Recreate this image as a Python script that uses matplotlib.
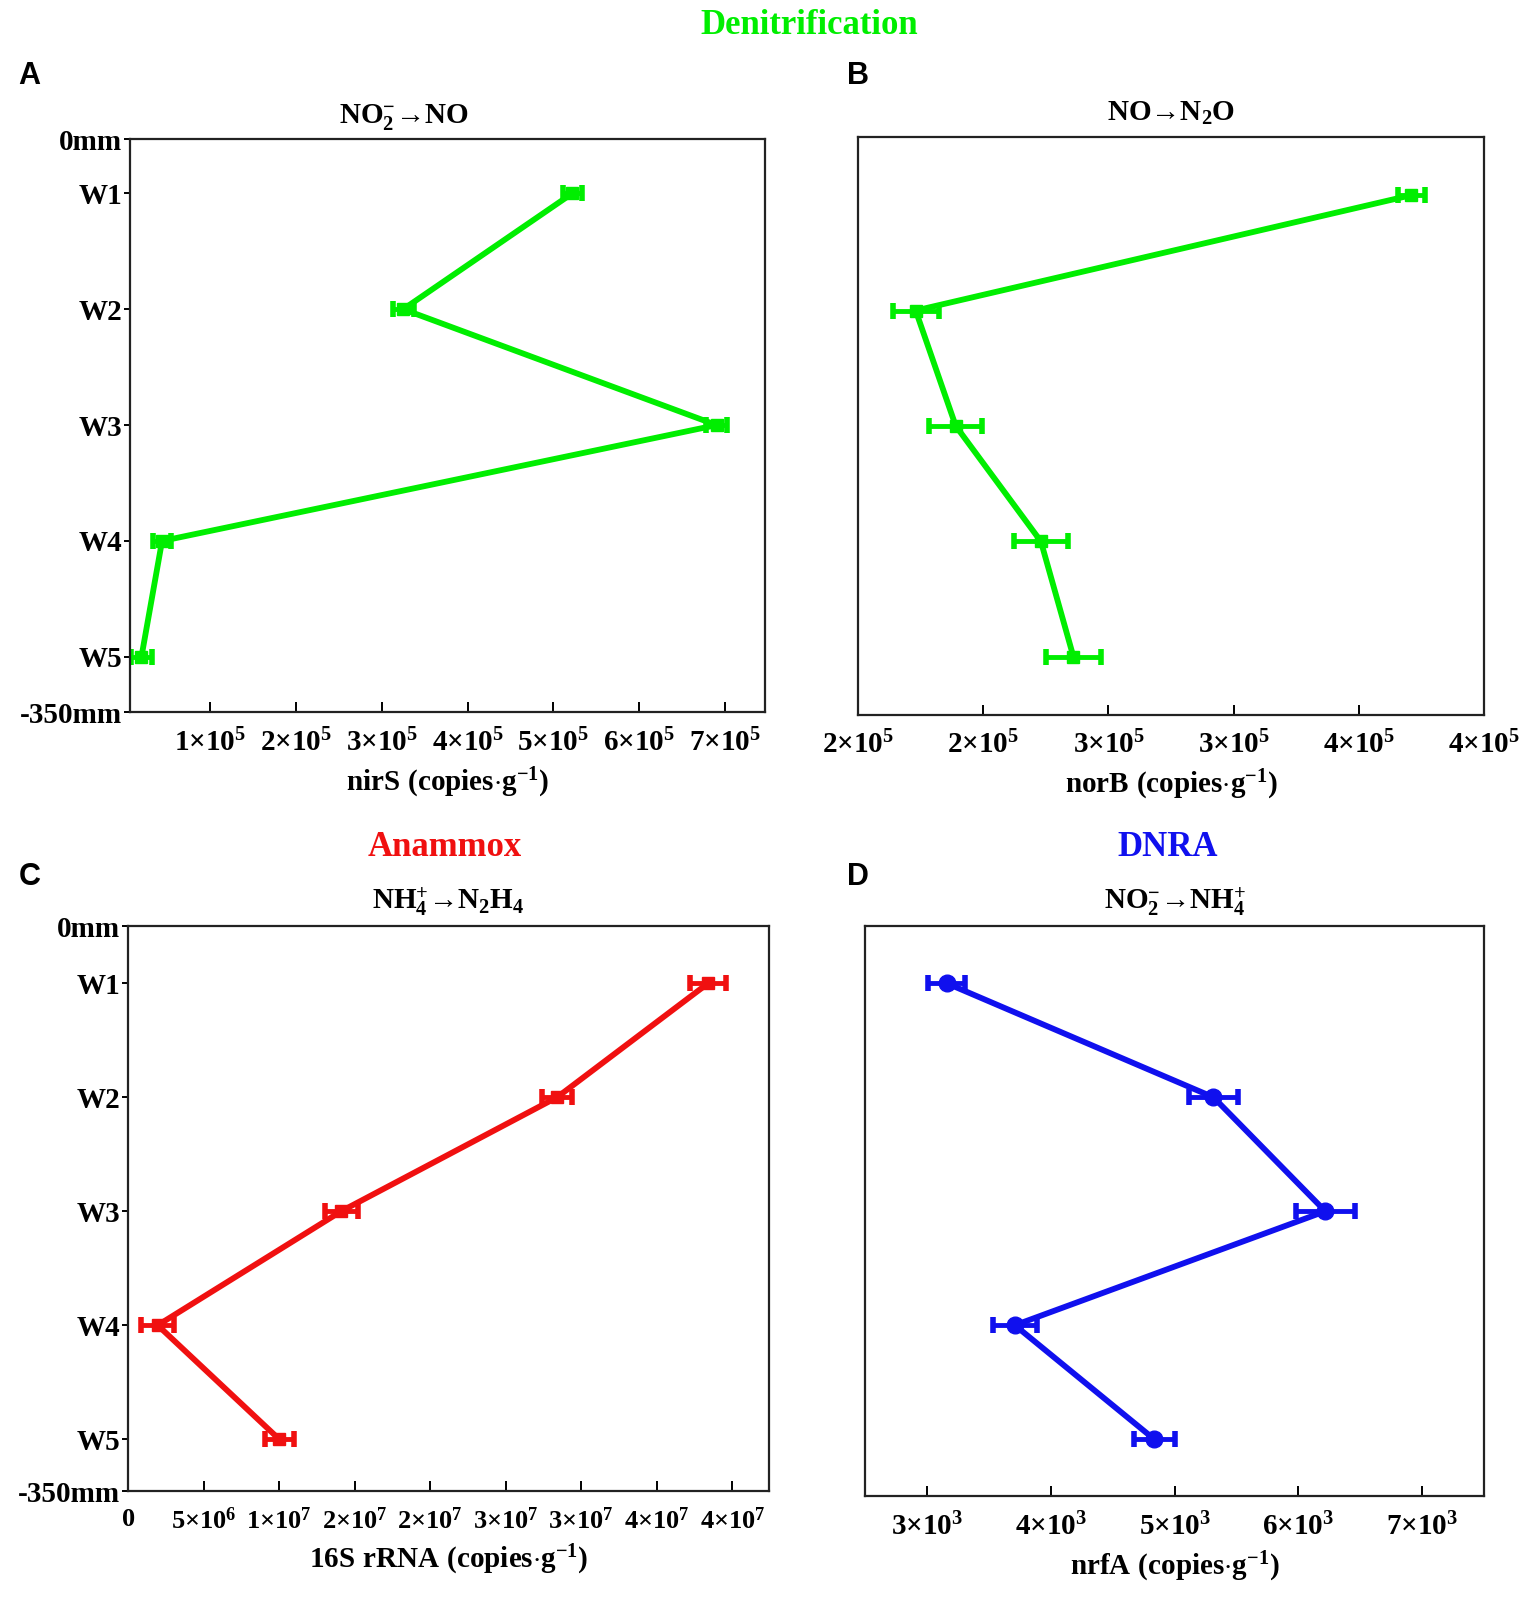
import math
import matplotlib
matplotlib.use("Agg")
import matplotlib.pyplot as plt
from matplotlib.ticker import FuncFormatter, FixedLocator

plt.rcParams["font.family"] = ["Liberation Serif", "DejaVu Serif"]
plt.rcParams["font.weight"] = "bold"
plt.rcParams["mathtext.fontset"] = "custom"
plt.rcParams["mathtext.rm"] = "Liberation Serif:bold"
plt.rcParams["mathtext.it"] = "Liberation Serif:bold"
plt.rcParams["mathtext.bf"] = "Liberation Serif:bold"
plt.rcParams["mathtext.default"] = "bf"

# sampling depths
sites = ["W1", "W2", "W3", "W4", "W5"]
depth_pos = [1, 2, 3, 4, 5]

# gene copies (copies per g) and errors
nirS = [5.22e5, 3.25e5, 6.90e5, 0.44e5, 0.20e5]
nirS_err = [1.1e4, 1.2e4, 1.2e4, 1.0e4, 1.2e4]
norB = [3.96e5, 1.98e5, 2.14e5, 2.48e5, 2.61e5]
norB_err = [5.5e3, 9.2e3, 1.05e4, 1.08e4, 1.1e4]
rrna16S = [3.84e7, 2.84e7, 1.41e7, 1.95e6, 1.00e7]
rrna16S_err = [1.2e6, 1.0e6, 1.1e6, 1.1e6, 0.95e6]
nrfA = [3158, 5313, 6217, 3709, 4835]
nrfA_err = [150, 200, 240, 180, 165]

GREEN = "#00EE00"
RED = "#F01010"
BLUE = "#1010EE"
TICK_FS = 21
LAB_FS = 21


def sci_label(v, pos=None):
    if v <= 0:
        return "0"
    e = int(math.floor(math.log10(v) + 1e-9))
    m = int(v / 10 ** e + 0.5)
    return r"$\mathbf{%d{\times}10^{%d}}$" % (m, e)


def style_axis(ax, ylim, show_y):
    ax.set_ylim(*ylim)
    for s in ax.spines.values():
        s.set_linewidth(1.6)
        s.set_color("#222222")
    ax.tick_params(axis="x", direction="in", length=7, width=1.4,
                   labelsize=TICK_FS, pad=12)
    if show_y:
        ax.yaxis.set_major_locator(FixedLocator([ylim[1]] + depth_pos + [ylim[0]]))
        ax.set_yticklabels(["0mm"] + sites + ["-350mm"])
        ax.tick_params(axis="y", direction="out", length=4, width=1.4,
                       labelsize=TICK_FS, pad=2)
    else:
        ax.set_yticks([])
    ax.xaxis.set_major_formatter(FuncFormatter(sci_label))


def draw(ax, x, xerr, color, marker, ms):
    ax.errorbar(x, depth_pos, xerr=xerr, color=color, lw=4.2, marker=marker,
                ms=ms, elinewidth=3.5, capsize=6, capthick=4)


fig = plt.figure(figsize=(15.35, 15.97), dpi=100)
W, H = 1508.0, 1569.0


def add_ax(l, r, t, b):
    return fig.add_axes([l / W, 1 - b / H, (r - l) / W, (b - t) / H])


axA = add_ax(128, 752, 137, 700)
axB = add_ax(843, 1458, 135, 702)
axC = add_ax(126, 755, 910, 1465)
axD = add_ax(850, 1458, 910, 1470)

# A
draw(axA, nirS, nirS_err, GREEN, "s", 9)
axA.set_xlim(7e3, 7.47e5)
axA.xaxis.set_major_locator(FixedLocator([1e5, 2e5, 3e5, 4e5, 5e5, 6e5, 7e5]))
style_axis(axA, (5.48, 0.535), True)
axA.set_xlabel(r"$\mathbf{nirS\ (copies{\cdot}g^{-1})}$", fontsize=LAB_FS, labelpad=6)
axA.set_title(r"$\mathbf{NO_2^{-}→NO}$", fontsize=LAB_FS, pad=12, x=0.43)

# B
draw(axB, norB, norB_err, GREEN, "s", 9)
axB.set_xlim(1.75e5, 4.25e5)
axB.xaxis.set_major_locator(FixedLocator([1.75e5, 2.25e5, 2.75e5, 3.25e5, 3.75e5, 4.25e5]))
style_axis(axB, (5.5, 0.5), False)
axB.set_xlabel(r"$\mathbf{norB\ (copies{\cdot}g^{-1})}$", fontsize=LAB_FS, labelpad=6)
axB.set_title(r"$\mathbf{NO→N_2O}$", fontsize=LAB_FS, pad=12)

# C
draw(axC, rrna16S, rrna16S_err, RED, "s", 9)
axC.set_xlim(0, 4.24e7)
axC.xaxis.set_major_locator(FixedLocator([0, 5e6, 1e7, 1.5e7, 2e7, 2.5e7, 3e7, 3.5e7, 4e7]))
style_axis(axC, (5.455, 0.5), True)
axC.tick_params(axis="x", labelsize=19)
axC.set_xlabel(r"$\mathbf{16S\ rRNA\ (copies{\cdot}g^{-1})}$", fontsize=LAB_FS, labelpad=6)
axC.set_title(r"$\mathbf{NH_4^{+}→N_2H_4}$", fontsize=LAB_FS, pad=12)

# D
draw(axD, nrfA, nrfA_err, BLUE, "o", 12)
axD.set_xlim(2500, 7500)
axD.xaxis.set_major_locator(FixedLocator([3000, 4000, 5000, 6000, 7000]))
style_axis(axD, (5.5, 0.5), False)
axD.set_xlabel(r"$\mathbf{nrfA\ (copies{\cdot}g^{-1})}$", fontsize=LAB_FS, labelpad=6)
axD.set_title(r"$\mathbf{NO_2^{-}→NH_4^{+}}$", fontsize=LAB_FS, pad=12)

# group headings
fig.text(795 / W, 1 - 25 / H, "Denitrification", color=GREEN, fontsize=25,
         ha="center", va="center", fontweight="bold")
fig.text(437 / W, 1 - 833 / H, "Anammox", color=RED, fontsize=25,
         ha="center", va="center", fontweight="bold")
fig.text(1147 / W, 1 - 833 / H, "DNRA", color=BLUE, fontsize=25,
         ha="center", va="center", fontweight="bold")

# panel letters
for lab, x, y in [("A", 18, 75), ("B", 832, 75), ("C", 18, 862), ("D", 832, 862)]:
    fig.text(x / W, 1 - y / H, lab, fontsize=22, fontweight="bold",
             family=["Liberation Sans", "DejaVu Sans"], ha="left", va="center")

fig.savefig("out.png", dpi=100)
